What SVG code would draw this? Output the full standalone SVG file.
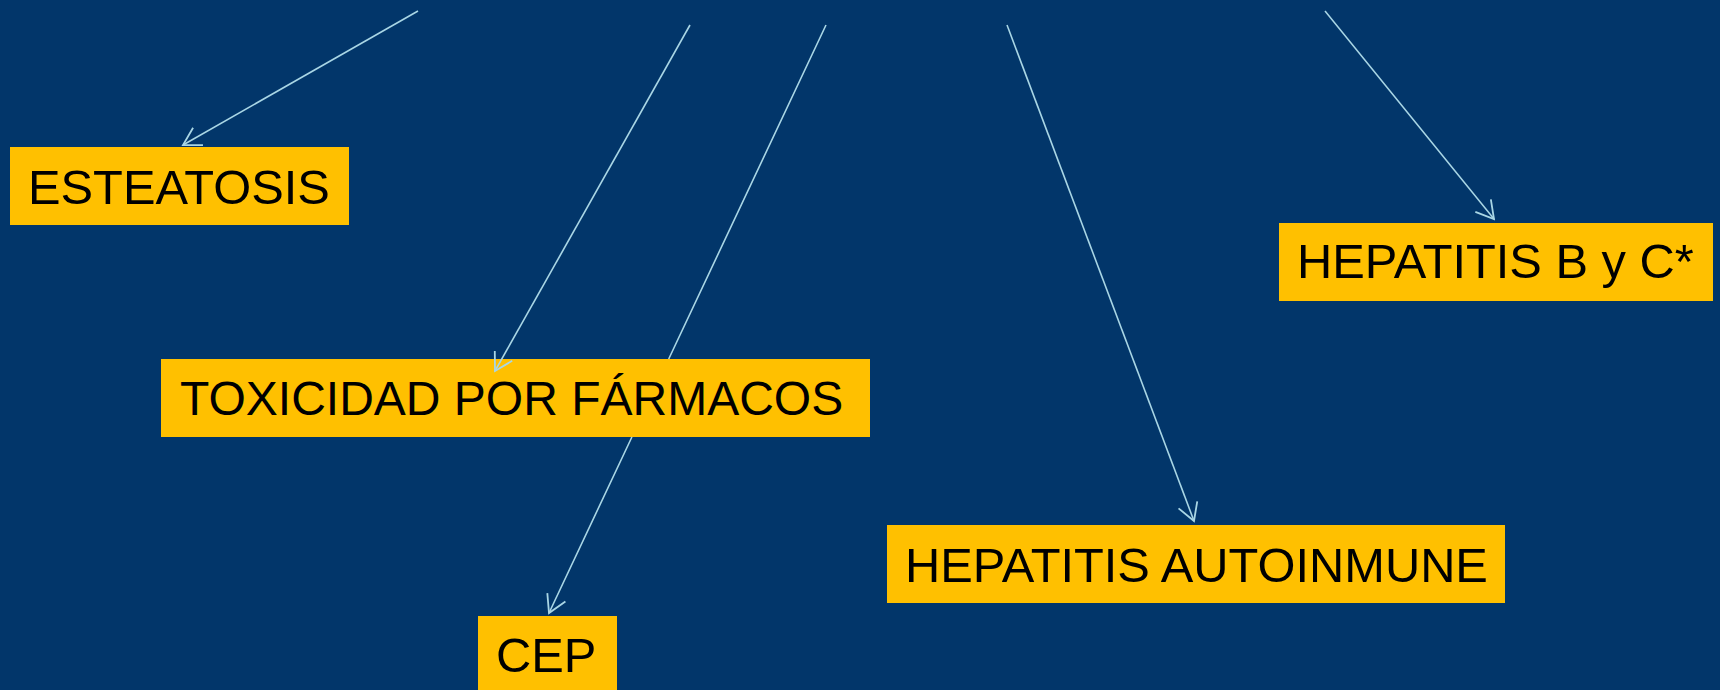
<svg xmlns="http://www.w3.org/2000/svg" width="1720" height="690" viewBox="0 0 1720 690">
<style>
.box{fill:#FFC000}
.lbl{font-family:"Liberation Sans",Arial,sans-serif;font-size:48.8px;fill:#000}
.con{stroke:#A9D6E5;stroke-width:1.6;fill:none;marker-end:url(#arr)}
</style>
<defs>
<marker id="arr" markerUnits="userSpaceOnUse" viewBox="-22 -12 24 24" markerWidth="24" markerHeight="24" refX="0" refY="0" orient="auto">
<path d="M-17.3,-10 L0,0 L-17.3,10" fill="none" stroke="#A9D6E5" stroke-width="1.8"/>
</marker>
</defs>
<rect width="1720" height="690" fill="#02366A"/>
<g id="esteatosis">
<rect class="box" x="10" y="147" width="339" height="78"/>
<text class="lbl" x="28" y="204">ESTEATOSIS</text>
</g>
<g id="toxicidad">
<rect class="box" x="161" y="359" width="709" height="78"/>
<text class="lbl" x="180" y="415" style="font-size:48px">TOXICIDAD POR FÁRMACOS</text>
</g>
<g id="cep">
<rect class="box" x="478" y="616" width="139" height="80"/>
<text class="lbl" x="496" y="672">CEP</text>
</g>
<g id="hepatitis-autoinmune">
<rect class="box" x="887" y="525" width="618" height="78"/>
<text class="lbl" x="905" y="582">HEPATITIS AUTOINMUNE</text>
</g>
<g id="hepatitis-b-c">
<rect class="box" x="1279" y="223" width="434" height="78"/>
<text class="lbl" x="1297" y="278">HEPATITIS B y C*</text>
</g>
<g id="connectors">
<line class="con" x1="418" y1="11" x2="183" y2="145"/>
<line class="con" x1="690" y1="25" x2="495" y2="371"/>
<path class="con" d="M826,25 L668.7,359 M631.9,437 L549,613"/>
<line class="con" x1="1007" y1="25" x2="1194" y2="521"/>
<line class="con" x1="1325" y1="11" x2="1494" y2="219"/>
</g>
</svg>
